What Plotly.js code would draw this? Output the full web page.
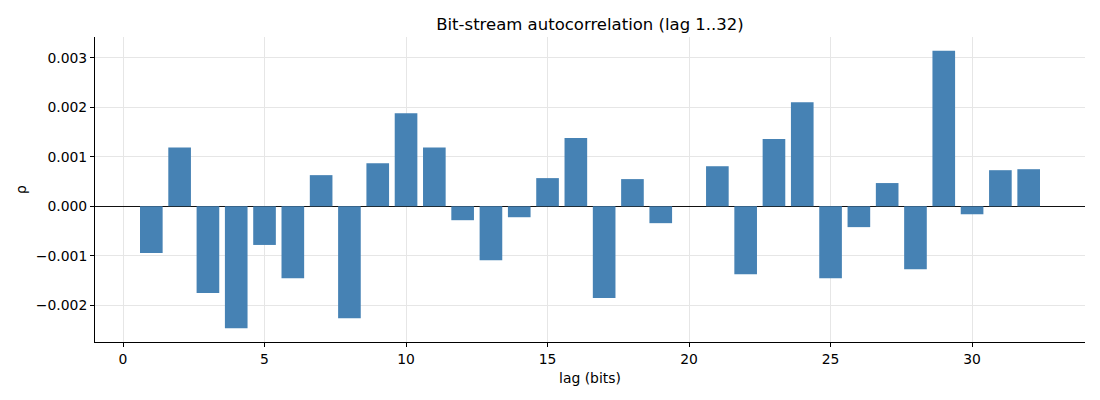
<!DOCTYPE html>
<html>
<head>
<meta charset="utf-8">
<script src="https://cdn.plot.ly/plotly-3.0.1.min.js"></script>
<style>
  html, body { margin: 0; padding: 0; background: #ffffff; }
  #chart { width: 1100px; height: 400px; }
</style>
</head>
<body>
<div id="chart"></div>
<script>
// lags 1..32
const lags = [];
for (let i = 1; i <= 32; i++) lags.push(i);

// autocorrelation values
const rho = [
  -0.00094, 0.00119, -0.00175, -0.00246, -0.00078, -0.00145, 0.00063, -0.00226,
  0.00087, 0.00188, 0.00119, -0.00028, -0.00109, -0.00022, 0.00057, 0.00138,
  -0.00185, 0.00055, -0.00034, 0.00000, 0.00081, -0.00137, 0.00136, 0.00210,
  -0.00145, -0.00042, 0.00047, -0.00127, 0.00314, -0.00016, 0.00073, 0.00075
];

const xTicks = [0, 5, 10, 15, 20, 25, 30];
const yTicks = [-0.002, -0.001, 0, 0.001, 0.002, 0.003];

const barColor = '#4682b4';
const textColor = '#000000';
const gridColor = '#e6e6e6';
const fontFamily = 'DejaVu Sans, sans-serif';
const tickSize = 13.9;

const trace = {
  x: lags,
  y: rho,
  type: 'bar',
  width: 0.8,
  marker: { color: barColor, line: { width: 0 } },
  hoverinfo: 'x+y'
};

const layout = {
  width: 1100,
  height: 400,
  margin: { l: 95, r: 15, t: 37, b: 58 },
  paper_bgcolor: '#ffffff',
  plot_bgcolor: '#ffffff',
  font: { family: fontFamily, size: tickSize, color: textColor },
  title: {
    text: 'Bit-stream autocorrelation (lag 1..32)',
    font: { family: fontFamily, size: 16.5, color: '#000000' },
    x: 0.5,
    xref: 'paper',
    y: 0.94,
    yref: 'container',
    yanchor: 'middle'
  },
  xaxis: {
    range: [-0.99, 33.99],
    tickvals: xTicks,
    ticktext: xTicks.map(String),
    showgrid: true,
    gridcolor: gridColor,
    gridwidth: 1,
    zeroline: false,
    showline: true,
    linecolor: '#000000',
    linewidth: 1,
    ticks: 'outside',
    ticklen: 4,
    tickcolor: '#000000',
    tickfont: { family: fontFamily, size: tickSize, color: textColor },
    title: { text: 'lag (bits)', font: { family: fontFamily, size: tickSize, color: textColor }, standoff: 7 }
  },
  yaxis: {
    range: [-0.00274, 0.00342],
    tickvals: yTicks,
    ticktext: yTicks.map(v => (v < 0 ? '\u2212' : '') + Math.abs(v).toFixed(3)),
    showgrid: true,
    gridcolor: gridColor,
    gridwidth: 1,
    zeroline: true,
    zerolinecolor: '#111111',
    zerolinewidth: 1,
    showline: true,
    linecolor: '#000000',
    linewidth: 1,
    ticks: 'outside',
    ticklen: 4,
    tickcolor: '#000000',
    tickfont: { family: fontFamily, size: tickSize, color: textColor },
    title: { text: 'ρ', font: { family: fontFamily, size: tickSize, color: textColor }, standoff: 5 }
  },
  bargap: 0.2,
  showlegend: false
};

Plotly.newPlot('chart', [trace], layout, { displayModeBar: false, staticPlot: true });
</script>
</body>
</html>
